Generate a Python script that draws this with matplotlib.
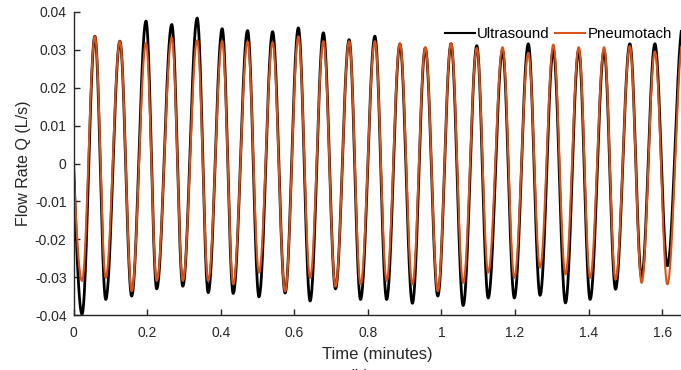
import numpy as np
import matplotlib
matplotlib.use("Agg")
import matplotlib.pyplot as plt

plt.rcParams['font.family'] = ['Liberation Sans', 'DejaVu Sans']

# extrema (time in minutes, flow in L/s)
peak_t = [0.058, 0.126, 0.197, 0.267, 0.336, 0.404, 0.473, 0.541, 0.611, 0.679,
          0.749, 0.819, 0.887, 0.956, 1.026, 1.096, 1.166, 1.236, 1.304, 1.373,
          1.442, 1.512, 1.580, 1.656]
us_peak = [0.0336, 0.0323, 0.0376, 0.0367, 0.0384, 0.0356, 0.0351, 0.0348, 0.0358, 0.0345,
           0.0327, 0.0336, 0.0315, 0.0305, 0.0316, 0.0311, 0.0298, 0.0316, 0.0300, 0.0300,
           0.0298, 0.0316, 0.0316, 0.0365]
pn_peak = [0.0336, 0.0323, 0.0318, 0.0332, 0.0325, 0.0323, 0.0322, 0.0320, 0.0336, 0.0323,
           0.0323, 0.0323, 0.0318, 0.0307, 0.0318, 0.0305, 0.0307, 0.0292, 0.0314, 0.0307,
           0.0307, 0.0310, 0.0296, 0.0325]

trough_t = [0.023, 0.0875, 0.158, 0.226, 0.297, 0.366, 0.434, 0.504, 0.575, 0.643,
            0.712, 0.780, 0.851, 0.921, 0.990, 1.059, 1.127, 1.198, 1.268, 1.337,
            1.404, 1.473, 1.544, 1.614]
us_trough = [-0.0398, -0.0359, -0.0350, -0.0331, -0.0324, -0.0341, -0.0343, -0.0352, -0.0342, -0.0363,
             -0.0331, -0.0359, -0.0359, -0.0369, -0.0350, -0.0375, -0.0355, -0.0355, -0.0348, -0.0368,
             -0.0359, -0.0332, -0.0300, -0.0270]
pn_trough = [-0.0310, -0.0302, -0.0337, -0.0310, -0.0310, -0.0310, -0.0319, -0.0288, -0.0338, -0.0302,
             -0.0325, -0.0319, -0.0310, -0.0319, -0.0337, -0.0315, -0.0288, -0.0302, -0.0275, -0.0293,
             -0.0302, -0.0306, -0.0315, -0.0319]


def waveform(troughs, peaks, start=0.0, n=40):
    # join the read extrema with half-cosine segments
    times, vals = [0.0], [start]
    s = np.linspace(0, 1, n)[1:]
    # first quarter: from start value down to first trough
    times += list(trough_t[0] * s)
    vals += list(start + (troughs[0] - start) * np.sin(np.pi / 2 * s))
    ext_t, ext_v = [], []
    for i in range(len(trough_t)):
        ext_t += [trough_t[i], peak_t[i]]
        ext_v += [troughs[i], peaks[i]]
    for i in range(len(ext_t) - 1):
        t0, t1 = ext_t[i], ext_t[i + 1]
        v0, v1 = ext_v[i], ext_v[i + 1]
        times += list(t0 + (t1 - t0) * s)
        vals += list(v0 + (v1 - v0) * (1 - np.cos(np.pi * s)) / 2)
    return np.array(times), np.array(vals)


t_us, q_us = waveform(us_trough, us_peak)
t_pn, q_pn = waveform(pn_trough, pn_peak, start=-0.001)

fig = plt.figure(figsize=(6.81, 3.70), dpi=100)
ax = fig.add_axes([0.108, 0.1486, 0.892, 0.819])

ax.plot(t_us, q_us, color='black', lw=2.0, label='Ultrasound')
ax.plot(t_pn, q_pn, color='#D95319', lw=1.5, label='Pneumotach')

ax.set_xlim(0, 1.651)
ax.set_ylim(-0.04, 0.04)
ax.set_xticks([0, 0.2, 0.4, 0.6, 0.8, 1.0, 1.2, 1.4, 1.6])
ax.set_xticklabels(['0', '0.2', '0.4', '0.6', '0.8', '1', '1.2', '1.4', '1.6'])
ax.set_yticks(np.arange(-0.04, 0.0401, 0.01))
ax.set_yticklabels(['-0.04', '-0.03', '-0.02', '-0.01', '0', '0.01', '0.02', '0.03', '0.04'])

for side in ['top', 'right']:
    ax.spines[side].set_visible(False)
for side in ['left', 'bottom']:
    ax.spines[side].set_color('#262626')
    ax.spines[side].set_linewidth(1.0)
ax.tick_params(direction='in', length=4, width=1, colors='#262626', labelsize=10)
ax.tick_params(axis='x', pad=8)
ax.tick_params(axis='y', pad=5)

ax.set_xlabel('Time (minutes)', fontsize=12, color='#262626', labelpad=5)
ax.set_ylabel('Flow Rate Q (L/s)', fontsize=11.5, color='#262626', labelpad=3)

leg = ax.legend(loc='upper right', bbox_to_anchor=(1.0, 0.98), ncol=2, frameon=False,
                fontsize=10.8, handlelength=2.0, handletextpad=0.15, columnspacing=0.4,
                borderaxespad=0.2)
for h in leg.get_lines():
    h.set_linewidth(1.5)

fig.text(0.528, -0.018, '(b)', fontsize=12, color='#262626', ha='center', va='center')

fig.savefig('out.png', dpi=100)
